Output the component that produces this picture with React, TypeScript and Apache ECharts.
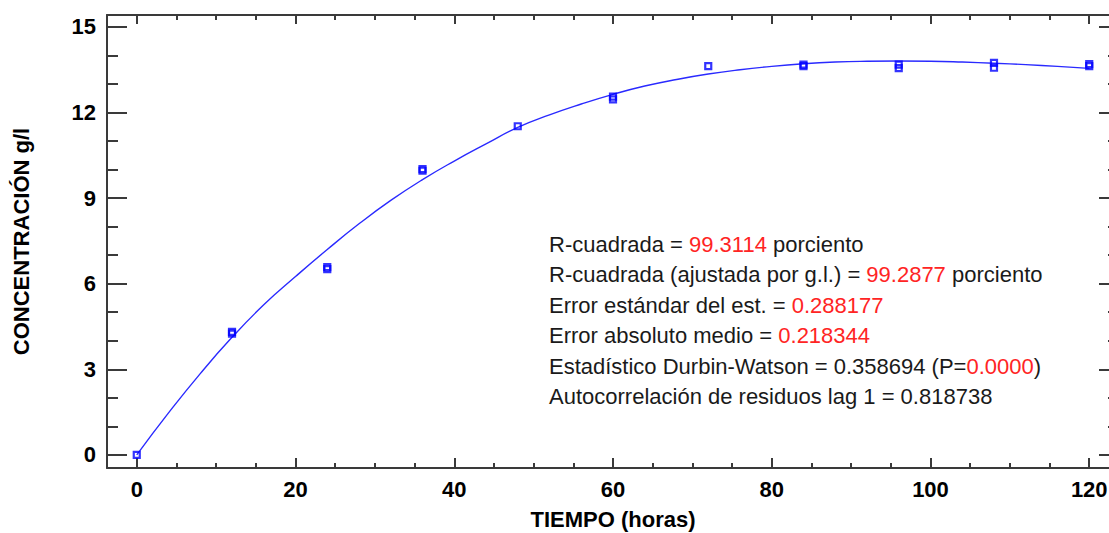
import React, { useEffect, useRef } from "react";
import * as echarts from "echarts";

// ---- data ----
const tiempo = [0, 12, 12, 24, 24, 36, 36, 48, 60, 60, 72, 84, 84, 96, 96, 108, 108, 120, 120];
const concentracion = [0, 4.31, 4.25, 6.58, 6.51, 10.02, 9.96, 11.52, 12.56, 12.46, 13.63, 13.68, 13.63, 13.68, 13.56, 13.74, 13.57, 13.7, 13.63];

const ajusteX = [0, 4, 8, 12, 16, 20, 24, 28, 32, 36, 40, 44, 48, 52, 56, 60, 64, 68, 72, 76, 80, 84, 88, 92, 96, 100, 104, 108, 112, 116, 120];
const ajusteY = [0, 1.47, 2.85, 4.12, 5.26, 6.25, 7.2, 8.1, 8.92, 9.65, 10.3, 10.9, 11.48, 11.92, 12.3, 12.64, 12.93, 13.16, 13.35, 13.5, 13.62, 13.71, 13.77, 13.8, 13.81, 13.8, 13.77, 13.73, 13.68, 13.62, 13.55];

const xMajor = [0, 20, 40, 60, 80, 100, 120];
const xMinor = [5, 10, 15, 25, 30, 35, 45, 50, 55, 65, 70, 75, 85, 90, 95, 105, 110, 115];
const yMajor = [0, 3, 6, 9, 12, 15];
const yMinor = [1, 2, 4, 5, 7, 8, 10, 11, 13, 14];

const statLabels = [
  "R-cuadrada = ",
  "R-cuadrada (ajustada por g.l.) = ",
  "Error estándar del est. = ",
  "Error absoluto medio = ",
  "Estadístico Durbin-Watson = 0.358694 (P=",
  "Autocorrelación de residuos lag 1 = 0.818738",
];
const statValues = ["99.3114", "99.2877", "0.288177", "0.218344", "0.0000", ""];
const statSuffix = [" porciento", " porciento", "", "", ")", ""];

const xName = "TIEMPO (horas)";
const yName = "CONCENTRACIÓN g/l";

const FONT = "'Liberation Sans', Arial, sans-serif";
const AXIS_COLOR = "#3a3a3a";

export default function App() {
  const ref = useRef<HTMLDivElement>(null);

  useEffect(() => {
    if (!ref.current) return;
    const chart = echarts.init(ref.current, undefined, { renderer: "svg" });
    const lineStyle = { color: AXIS_COLOR, width: 2 };
    const X_MIN = -3.75, X_MAX = 123.75, Y_MIN = -0.46, Y_MAX = 15.42;

    const xAx = (position: string, ticks: number[], len: number, line: boolean, label: boolean, extra: any = {}) => ({
      type: "value",
      position,
      min: X_MIN,
      max: X_MAX,
      axisLine: { show: line, onZero: false, lineStyle },
      axisTick: { show: true, inside: true, length: len, customValues: ticks, lineStyle },
      axisLabel: label
        ? { show: true, customValues: ticks, color: "#000", fontWeight: "bold", fontSize: 22, fontFamily: FONT, margin: 10 }
        : { show: false },
      splitLine: { show: false },
      ...extra,
    });
    const yAx = (position: string, ticks: number[], len: number, line: boolean, label: boolean, extra: any = {}) => ({
      type: "value",
      position,
      min: Y_MIN,
      max: Y_MAX,
      axisLine: { show: line, onZero: false, lineStyle },
      axisTick: { show: true, inside: true, length: len, customValues: ticks, lineStyle },
      axisLabel: label
        ? { show: true, customValues: ticks, color: "#000", fontWeight: "bold", fontSize: 22, fontFamily: FONT, margin: 11 }
        : { show: false },
      splitLine: { show: false },
      ...extra,
    });

    const curve = ajusteX.map((x, i) => [x, ajusteY[i]]);
    const pts = tiempo.map((x, i) => [x, concentracion[i]]);

    chart.setOption({
      animation: false,
      backgroundColor: "#fff",
      grid: { left: 107, top: 15, width: 1012, height: 453, containLabel: false, outerBoundsMode: "none" },
      xAxis: [
        xAx("bottom", xMajor, 10, true, true, {
          name: xName,
          nameLocation: "middle",
          nameGap: 40,
          nameTextStyle: { color: "#000", fontWeight: "bold", fontSize: 22, fontFamily: FONT },
        }),
        xAx("bottom", xMinor, 5, false, false),
        xAx("top", xMajor, 9, true, false),
        xAx("top", xMinor, 5, false, false),
      ],
      yAxis: [
        yAx("left", yMajor, 20, true, true, {
          name: yName,
          nameLocation: "middle",
          nameGap: 75,
          nameTextStyle: { color: "#000", fontWeight: "bold", fontSize: 22, fontFamily: FONT },
        }),
        yAx("left", yMinor, 11, false, false),
        yAx("right", yMajor, 20, true, false),
        yAx("right", yMinor, 11, false, false),
      ],
      series: [
        {
          type: "line",
          xAxisIndex: 0,
          yAxisIndex: 0,
          data: curve,
          smooth: true,
          showSymbol: false,
          lineStyle: { color: "#2a2aff", width: 1.4 },
          silent: true,
        },
        {
          type: "scatter",
          xAxisIndex: 0,
          yAxisIndex: 0,
          data: pts,
          symbol: "rect",
          symbolSize: 6,
          itemStyle: { color: "rgba(0,0,0,0)", borderColor: "#0000ff", borderWidth: 2.2 },
          z: 5,
        },
      ],
      graphic: statLabels.map((lab, i) => ({
        type: "text",
        x: 549,
        y: 244 + 30.5 * i,
        style: {
          text:
            "{k|" + lab + "}" +
            (statValues[i] ? "{r|" + statValues[i] + "}" : "") +
            (statSuffix[i] ? "{k|" + statSuffix[i] + "}" : ""),
          verticalAlign: "middle",
          align: "left",
          fontSize: 22,
          fontFamily: FONT,
          fill: "#1a1a1a",
          rich: {
            k: { fill: "#1a1a1a", fontSize: 22, fontFamily: FONT },
            r: { fill: "#ff2424", fontSize: 22, fontFamily: FONT },
          },
        },
      })),
    });
    return () => chart.dispose();
  }, []);

  return (
    <div
      ref={ref}
      style={{ position: "absolute", left: 0, top: 0, width: 1109, height: 533, overflow: "hidden" }}
    />
  );
}
